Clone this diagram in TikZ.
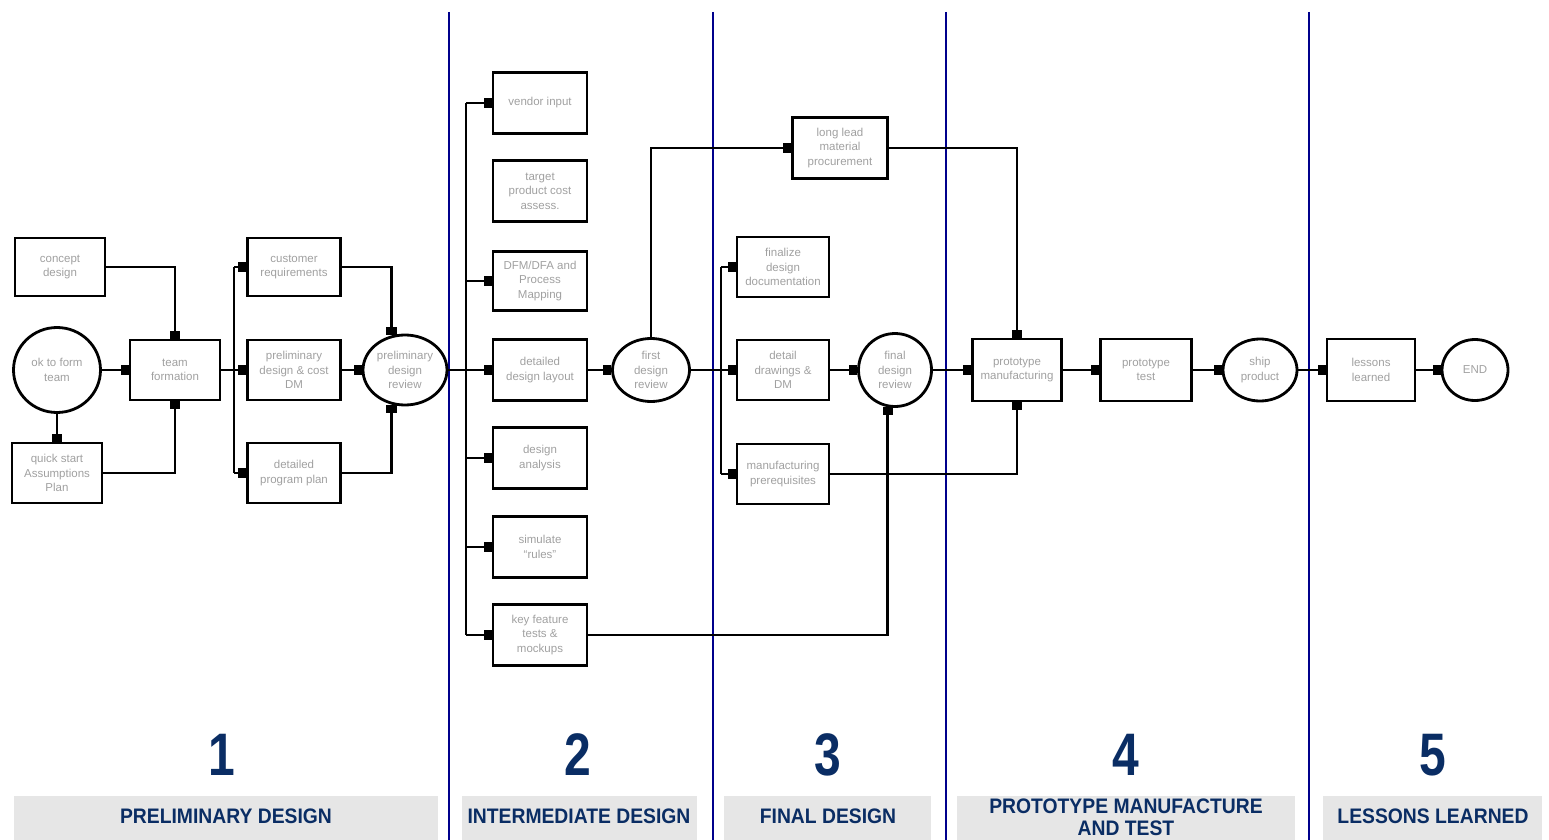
\documentclass[tikz,border=0pt]{standalone}
\usepackage{fontspec}
\setmainfont{Liberation Sans}
\newfontfamily\condfont{Liberation Sans}[FakeStretch=0.92]
\newfontfamily\digitfont{Liberation Sans}[FakeStretch=0.8]
\usetikzlibrary{arrows.meta,shapes.geometric}
\definecolor{boxtext}{RGB}{160,160,160}
\definecolor{phaseline}{RGB}{0,0,140}
\definecolor{phasetext}{RGB}{10,45,100}
\definecolor{phasebar}{RGB}{230,230,230}
\tikzset{
  stepbox/.style={draw, line width=2.8pt, minimum width=92pt, minimum height=60pt,
    inner sep=0pt, align=center, text=boxtext, font=\fontsize{11.5}{14.5}\selectfont},
  reviewnode/.style={ellipse, draw, line width=2.8pt, inner sep=0pt, align=center,
    text=boxtext, font=\fontsize{11.5}{14.5}\selectfont},
  conn/.style={draw, line width=2.8pt},
  arr/.style={conn, -{Square[length=8pt,width=10.5pt]}},
  divider/.style={draw=phaseline, line width=2.4pt},
  bar/.style={fill=phasebar, draw=none},
  phasenum/.style={text=phasetext, font=\digitfont\bfseries\fontsize{60}{60}\selectfont},
  phasename/.style={text=phasetext, align=center, font=\condfont\bfseries\fontsize{21}{22}\selectfont}
}
\begin{document}
\begin{tikzpicture}[x=1pt,y=-1pt]
\useasboundingbox (0,0) rectangle (1549,840);

% phase dividers
\draw[divider] (449,12) -- (449,840);
\draw[divider] (713,12) -- (713,840);
\draw[divider] (946,12) -- (946,840);
\draw[divider] (1309,12) -- (1309,840);

% phase captions
\fill[bar] (14,796) rectangle (438,840);
\fill[bar] (462,796) rectangle (697,840);
\fill[bar] (724,796) rectangle (931,840);
\fill[bar] (957,796) rectangle (1295,840);
\fill[bar] (1323,796) rectangle (1542,840);
\node[phasenum] (n1) at (222,755) {1};
\node[phasenum] (n2) at (578,755) {2};
\node[phasenum] (n3) at (828,755) {3};
\node[phasenum] (n4) at (1126,755) {4};
\node[phasenum] (n5) at (1433,755) {5};
\node[phasename] (p1) at (226,816) {PRELIMINARY DESIGN};
\node[phasename] (p2) at (579,816) {INTERMEDIATE DESIGN};
\node[phasename] (p3) at (828,816) {FINAL DESIGN};
\node[phasename] (p4) at (1126,817) {PROTOTYPE MANUFACTURE\\AND TEST};
\node[phasename] (p5) at (1433,816) {LESSONS LEARNED};

% phase 1
\node[stepbox, minimum width=90pt, minimum height=58pt] (cd) at (60,267) {concept\\design};
\node[reviewnode, minimum width=87pt, minimum height=85pt] (ok) at (57,370) {ok to form\\team};
\node[stepbox, minimum width=90pt] (qs) at (57,473) {quick start\\Assumptions\\Plan};
\node[stepbox, minimum width=90pt] (tf) at (175,370) {team\\formation};
\node[stepbox, minimum width=93pt, minimum height=58pt] (cr) at (294,267) {customer\\requirements};
\node[stepbox, minimum width=93pt] (pd) at (294,370) {preliminary\\design \& cost\\DM};
\node[stepbox, minimum width=93pt] (dp) at (294,473) {detailed\\program plan};
\node[reviewnode, minimum width=84pt, minimum height=70pt] (pdr) at (405,370) {preliminary\\design\\review};
\coordinate (bus1) at (234,370);

\draw[arr] (ok.east) -- (tf.west);
\draw[arr] (ok.south) -- (qs.north);
\draw[arr] (cd.east) -| (tf.north);
\draw[arr] (qs.east) -| (tf.south);
\draw[conn] (tf.east) -- (bus1);
\draw[conn] (bus1 |- cr.west) -- (bus1 |- dp.west);
\draw[arr] (bus1 |- cr.west) -- (cr.west);
\draw[arr] (bus1) -- (pd.west);
\draw[arr] (bus1 |- dp.west) -- (dp.west);
\draw[arr] (cr.east) -| (pdr.111);
\draw[arr] (pd.east) -- (pdr.west);
\draw[arr] (dp.east) -| (pdr.249);

% phase 2
\node[stepbox, minimum width=94pt, minimum height=61pt] (vi) at (540,103) {vendor input};
\node[stepbox, minimum width=94pt, minimum height=61pt] (tp) at (540,191) {target\\product cost\\assess.};
\node[stepbox, minimum width=94pt, minimum height=59pt] (dfm) at (540,281) {DFM/DFA and\\Process\\Mapping};
\node[stepbox, minimum width=94pt, minimum height=61pt] (dl) at (540,370) {detailed\\design layout};
\node[stepbox, minimum width=94pt, minimum height=61pt] (da) at (540,458) {design\\analysis};
\node[stepbox, minimum width=94pt, minimum height=61pt] (sr) at (540,547) {simulate\\``rules''};
\node[stepbox, minimum width=94pt, minimum height=61pt] (kf) at (540,635) {key feature\\tests \&\\mockups};
\node[reviewnode, minimum width=77pt, minimum height=63pt] (fdr) at (651,370) {first\\design\\review};
\coordinate (bus2) at (466,370);

\draw[conn] (pdr.east) -- (bus2);
\draw[conn] (bus2 |- vi.west) -- (bus2 |- kf.west);
\draw[arr] (bus2 |- vi.west) -- (vi.west);
\draw[arr] (bus2 |- dfm.west) -- (dfm.west);
\draw[arr] (bus2) -- (dl.west);
\draw[arr] (bus2 |- da.west) -- (da.west);
\draw[arr] (bus2 |- sr.west) -- (sr.west);
\draw[arr] (bus2 |- kf.west) -- (kf.west);
\draw[arr] (dl.east) -- (fdr.west);

% phase 3
\node[stepbox, minimum width=95pt, minimum height=61pt] (ll) at (840,148) {long lead\\material\\procurement};
\node[stepbox, minimum width=92pt] (fz) at (783,267) {finalize\\design\\documentation};
\node[stepbox, minimum width=92pt] (dd) at (783,370) {detail\\drawings \&\\DM};
\node[stepbox, minimum width=92pt] (mp) at (783,474) {manufacturing\\prerequisites};
\node[reviewnode, minimum width=73pt, minimum height=73pt] (fnr) at (895,370) {final\\design\\review};
\coordinate (bus3) at (721,370);

\draw[arr] (fdr.north) |- (ll.west);
\draw[conn] (fdr.east) -- (bus3);
\draw[conn] (bus3 |- fz.west) -- (bus3 |- mp.west);
\draw[arr] (bus3 |- fz.west) -- (fz.west);
\draw[arr] (bus3) -- (dd.west);
\draw[arr] (bus3 |- mp.west) -- (mp.west);
\draw[arr] (dd.east) -- (fnr.west);
\draw[arr] (kf.east) -| (fnr.259);

% phase 4
\node[stepbox, minimum width=89pt, minimum height=62pt] (pm) at (1017,370) {prototype\\manufacturing};
\node[stepbox, minimum width=91pt, minimum height=62pt] (pt) at (1146,370) {prototype\\test};
\node[reviewnode, minimum width=74pt, minimum height=62pt] (sp) at (1260,370) {ship\\product};

\draw[arr] (ll.east) -| (pm.north);
\draw[arr] (mp.east) -| (pm.south);
\draw[arr] (fnr.east) -- (pm.west);
\draw[arr] (pm.east) -- (pt.west);
\draw[arr] (pt.east) -- (sp.west);

% phase 5
\node[stepbox, minimum width=88pt, minimum height=62pt] (lsn) at (1371,370) {lessons\\learned};
\node[reviewnode, minimum width=66pt, minimum height=61pt] (end) at (1475,370) {END};

\draw[arr] (sp.east) -- (lsn.west);
\draw[arr] (lsn.east) -- (end.west);
\end{tikzpicture}
\end{document}
